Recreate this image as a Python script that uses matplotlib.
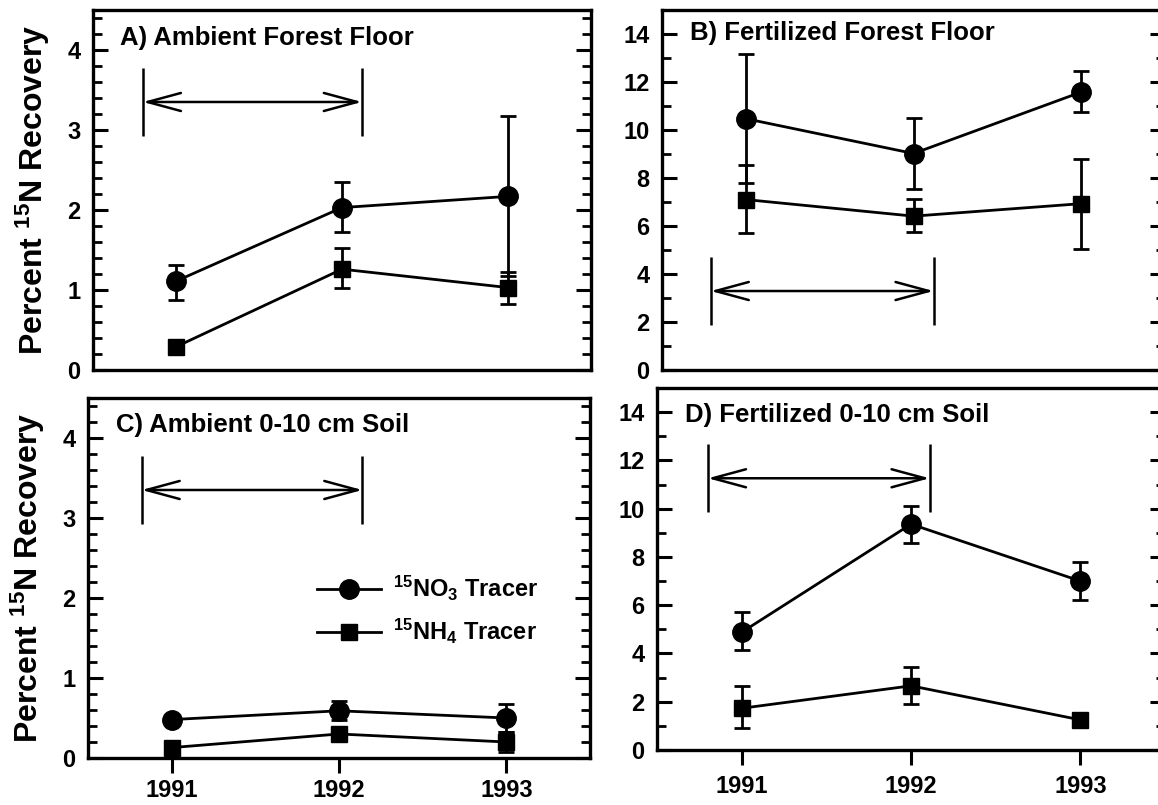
import matplotlib
matplotlib.use('Agg')
import matplotlib.pyplot as plt
from matplotlib.lines import Line2D
from matplotlib.patches import FancyArrowPatch, ArrowStyle
from matplotlib.ticker import MultipleLocator

plt.rcParams['font.family'] = ['Liberation Sans', 'DejaVu Sans']
plt.rcParams['font.weight'] = 'bold'
plt.rcParams['mathtext.fontset'] = 'custom'
plt.rcParams['mathtext.rm'] = 'Liberation Sans:bold'
plt.rcParams['mathtext.it'] = 'Liberation Sans:bold'
plt.rcParams['mathtext.bf'] = 'Liberation Sans:bold'

# ---------------- data ----------------
years = [1991, 1992, 1993]
year_labels = ['1991', '1992', '1993']

# A) Ambient forest floor
a_no3 = [1.11, 2.03, 2.17]
a_no3_lo = [0.23, 0.31, 1.00]
a_no3_hi = [0.20, 0.32, 1.01]
a_nh4 = [0.29, 1.26, 1.03]
a_nh4_lo = [0.05, 0.24, 0.20]
a_nh4_hi = [0.05, 0.26, 0.20]

# B) Fertilized forest floor
b_no3 = [10.47, 9.02, 11.58]
b_no3_lo = [2.68, 1.46, 0.83]
b_no3_hi = [2.71, 1.48, 0.87]
b_nh4 = [7.10, 6.41, 6.93]
b_nh4_lo = [1.41, 0.68, 1.87]
b_nh4_hi = [1.46, 0.73, 1.88]

# C) Ambient 0-10 cm soil
c_no3 = [0.48, 0.59, 0.50]
c_no3_lo = [0.06, 0.12, 0.18]
c_no3_hi = [0.06, 0.12, 0.18]
c_nh4 = [0.13, 0.30, 0.20]
c_nh4_lo = [0.04, 0.05, 0.12]
c_nh4_hi = [0.04, 0.05, 0.12]

# D) Fertilized 0-10 cm soil
d_no3 = [4.88, 9.36, 7.00]
d_no3_lo = [0.75, 0.79, 0.79]
d_no3_hi = [0.83, 0.76, 0.79]
d_nh4 = [1.73, 2.66, 1.25]
d_nh4_lo = [0.83, 0.75, 0.10]
d_nh4_hi = [0.93, 0.78, 0.10]

titles = ['A) Ambient Forest Floor', 'B) Fertilized Forest Floor',
          'C) Ambient 0-10 cm Soil', 'D) Fertilized 0-10 cm Soil']
legend_labels = [r'$^{15}$NO$_3$ Tracer', r'$^{15}$NH$_4$ Tracer']
ylabel = r'Percent $^{15}$N Recovery'

# arrow annotations: (x_start, x_end, y_arrow, bar_bottom, bar_top)
arrow_a = (1990.80, 1992.12, 3.35, 2.92, 3.77)
arrow_b = (1990.79, 1992.12, 3.29, 1.87, 4.72)
arrow_c = (1990.82, 1992.14, 3.35, 2.92, 3.77)
arrow_d = (1990.80, 1992.11, 11.26, 9.85, 12.69)

# ---------------- figure ----------------
fig = plt.figure(figsize=(11.58, 8.05), dpi=100)
axA = fig.add_axes([0.0803, 0.5404, 0.4301, 0.4472])
axB = fig.add_axes([0.5717, 0.5404, 0.4344, 0.4472])
axC = fig.add_axes([0.0760, 0.0584, 0.4335, 0.4472])
axD = fig.add_axes([0.5674, 0.0683, 0.4387, 0.4497])

panels = [
    (axA, a_no3, a_no3_lo, a_no3_hi, a_nh4, a_nh4_lo, a_nh4_hi, arrow_a, 4.5, 0.2, False, 0.922, 9),
    (axB, b_no3, b_no3_lo, b_no3_hi, b_nh4, b_nh4_lo, b_nh4_hi, arrow_b, 15, 1, False, 0.936, 9),
    (axC, c_no3, c_no3_lo, c_no3_hi, c_nh4, c_nh4_lo, c_nh4_hi, arrow_c, 4.5, 0.2, True, 0.925, 4),
    (axD, d_no3, d_no3_lo, d_no3_hi, d_nh4, d_nh4_lo, d_nh4_hi, arrow_d, 15, 1, True, 0.925, 7),
]

mk_kw = dict(color='black', lw=2.0, elinewidth=2.0, capsize=6, capthick=2.0)

for i, (ax, no3, no3lo, no3hi, nh4, nh4lo, nh4hi, arr, ymax, mnr, xt, ty, xpad) in enumerate(panels):
    ax.errorbar(years, no3, yerr=[no3lo, no3hi], fmt='-o', ms=14, **mk_kw, zorder=3)
    ax.errorbar(years, nh4, yerr=[nh4lo, nh4hi], fmt='-s', ms=12, **mk_kw, zorder=3)

    ax.set_xlim(1990.5, 1993.5)
    ax.set_ylim(0, ymax)
    if ax in (axA, axC):
        ax.set_yticks([0, 1, 2, 3, 4])
    else:
        ax.set_yticks([0, 2, 4, 6, 8, 10, 12, 14])
    ax.yaxis.set_minor_locator(MultipleLocator(mnr))
    ax.tick_params(axis='y', which='major', direction='in', length=11, width=2.2,
                   left=True, right=True, labelsize=17, pad=9)
    ax.tick_params(axis='y', which='minor', direction='in', length=6.5, width=2.0,
                   left=True, right=True)
    if xt:
        ax.set_xticks(years)
        ax.set_xticklabels(year_labels)
        ax.tick_params(axis='x', which='major', direction='out', length=11, width=2.2,
                       labelsize=17, pad=xpad, top=False)
    else:
        ax.set_xticks([])
    ax.tick_params(axis='x', which='minor', bottom=False, top=False)
    for lab in ax.get_xticklabels() + ax.get_yticklabels():
        lab.set_fontweight('bold')
    for s in ax.spines.values():
        s.set_linewidth(2.4)

    ax.text(0.055, ty, titles[i], transform=ax.transAxes, fontsize=18.5,
            fontweight='bold', ha='left', va='center')

    x0, x1, ya, yb0, yb1 = arr
    ax.vlines([x0, x1], yb0, yb1, color='black', lw=1.8)
    arrow = FancyArrowPatch((x0, ya), (x1, ya),
                            arrowstyle=ArrowStyle('<->', head_length=2.4, head_width=0.65),
                            mutation_scale=10, shrinkA=0, shrinkB=0,
                            color='black', lw=1.8)
    ax.add_patch(arrow)

for ax in (axA, axC):
    ax.set_ylabel(ylabel, fontsize=23, fontweight='bold', labelpad=11)

handles = [Line2D([], [], color='black', lw=2.0, marker='o', ms=14),
           Line2D([], [], color='black', lw=2.0, marker='s', ms=12)]
axC.legend(handles, legend_labels, loc='center left',
           bbox_to_anchor=(1991.87, 1.85), bbox_transform=axC.transData,
           frameon=False, fontsize=17, handlelength=2.7, handletextpad=0.5,
           borderpad=0, borderaxespad=0, labelspacing=0.6)

fig.savefig('out.png', dpi=100)
